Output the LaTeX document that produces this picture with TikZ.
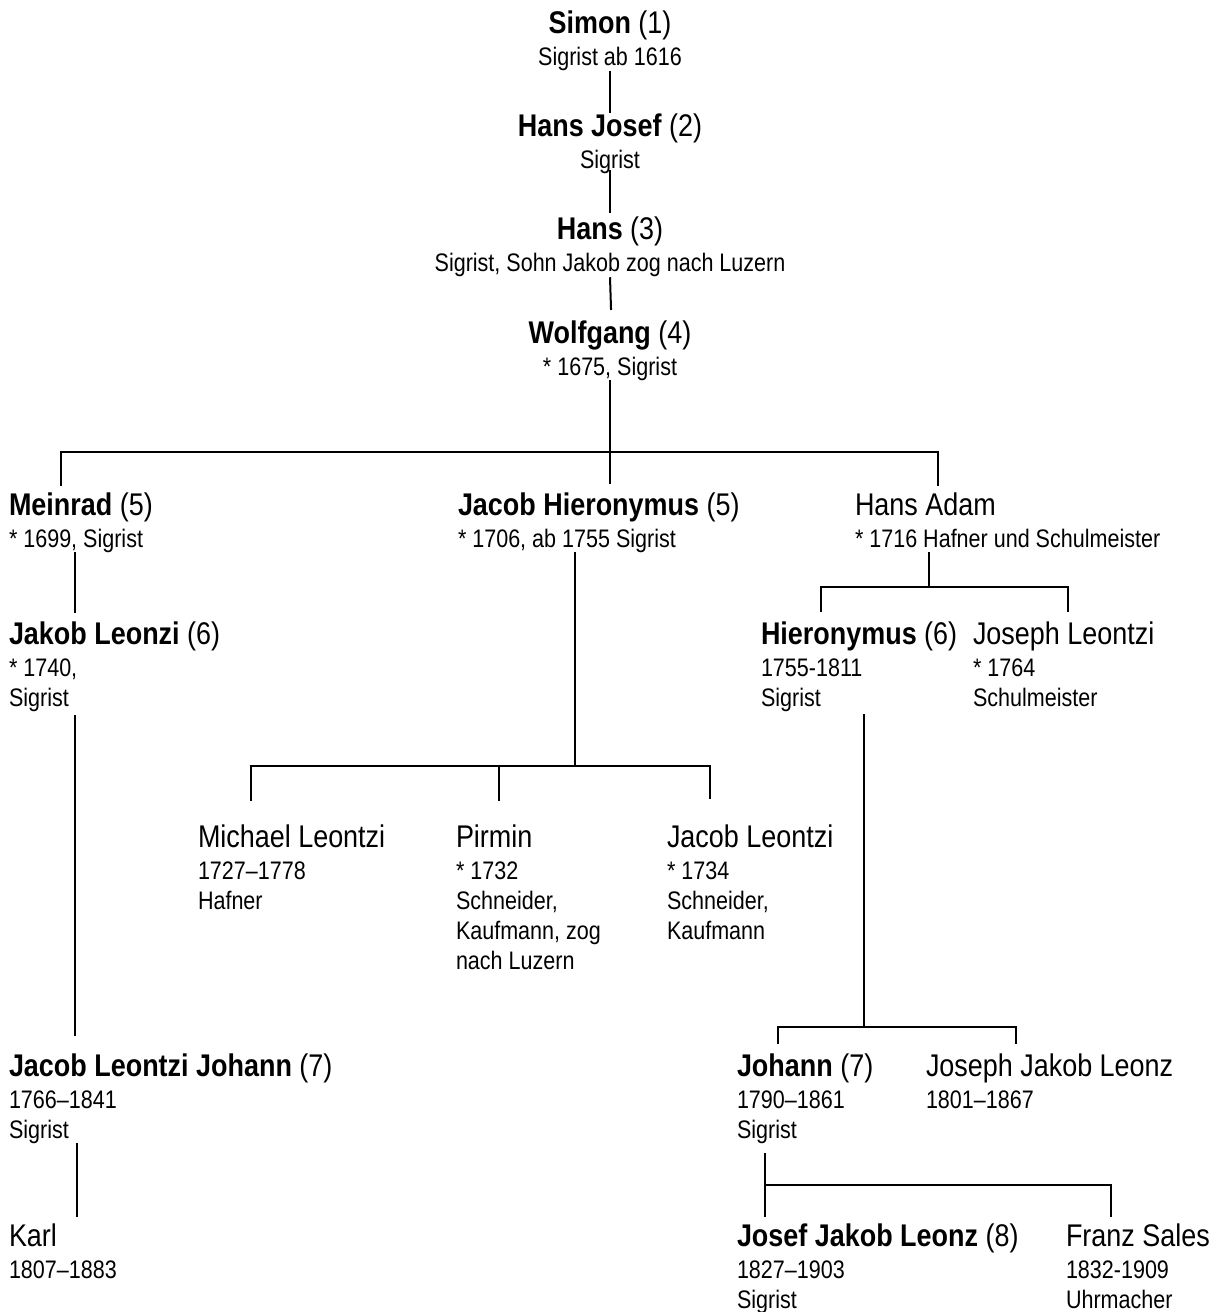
\documentclass[tikz,border=0pt]{standalone}
\usepackage{fontspec}
\setmainfont{Liberation Sans}[FakeStretch=0.85]
\newfontfamily\namefamily{Liberation Sans}[FakeStretch=0.86]
\usetikzlibrary{calc}
\newcommand\nmfont{\namefamily\fontsize{23.5pt}{22.5pt}\selectfont}
\newcommand\sbfont{\fontsize{19pt}{22.5pt}\selectfont}
\begin{document}
\begin{tikzpicture}[x=0.75pt,y=-0.75pt,
  person/.style={anchor=north west,inner sep=0pt,outer sep=0pt,align=left,font=\sbfont},
  topperson/.style={anchor=north,inner sep=0pt,outer sep=0pt,align=center,font=\sbfont},
  conn/.style={line width=1.5pt},
  barline/.style={line width=2pt}]
\fill[white] (0,0) rectangle (1219,1312);
\useasboundingbox (0,0) rectangle (1219,1312);

% ---- top chain ----
\node[topperson] (simon) at (610,10) {{\nmfont\rule{0pt}{18pt}\textbf{Simon} (1)}\\[1.5pt]Sigrist ab 1616};
\node[topperson] (hj) at (610,113) {{\nmfont\rule{0pt}{18pt}\textbf{Hans Josef} (2)}\\[1.5pt]Sigrist};
\node[topperson] (hans) at (610,216) {{\nmfont\rule{0pt}{18pt}\textbf{Hans} (3)}\\[1.5pt]Sigrist, Sohn Jakob zog nach Luzern};
\node[topperson] (wolf) at (610,319) {{\nmfont\rule{0pt}{18pt}\textbf{Wolfgang} (4)}\\[1.5pt]* 1675, Sigrist};

% ---- generation 5 ----
\node[person] (meinrad) at (9,491) {{\nmfont\rule{0pt}{18pt}\textbf{Meinrad} (5)}\\[1.5pt]* 1699, Sigrist};
\node[person] (jh) at (458,491) {{\nmfont\rule{0pt}{18pt}\textbf{Jacob Hieronymus} (5)}\\[1.5pt]* 1706, ab 1755 Sigrist};
\node[person] (hadam) at (855,491) {{\nmfont\rule{0pt}{18pt}Hans Adam}\\[1.5pt]* 1716 Hafner und Schulmeister};

% ---- generation 6 ----
\node[person] (jl) at (9,620) {{\nmfont\rule{0pt}{18pt}\textbf{Jakob Leonzi} (6)}\\[1.5pt]* 1740,\\Sigrist};
\node[person] (hier) at (761,620) {{\nmfont\rule{0pt}{18pt}\textbf{Hieronymus} (6)}\\[1.5pt]1755-1811\\Sigrist};
\node[person] (josl) at (973,620) {{\nmfont\rule{0pt}{18pt}Joseph Leontzi}\\[1.5pt]* 1764\\Schulmeister};

% ---- children of Jacob Hieronymus ----
\node[person] (michael) at (198,823) {{\nmfont\rule{0pt}{18pt}Michael Leontzi}\\[1.5pt]1727–1778\\Hafner};
\node[person] (pirmin) at (456,823) {{\nmfont\rule{0pt}{18pt}Pirmin}\\[1.5pt]* 1732\\Schneider,\\Kaufmann, zog\\nach Luzern};
\node[person] (jacl) at (667,823) {{\nmfont\rule{0pt}{18pt}Jacob Leontzi}\\[1.5pt]* 1734\\Schneider,\\Kaufmann};

% ---- generation 7 ----
\node[person] (jlj) at (9,1052) {{\nmfont\rule{0pt}{18pt}\textbf{Jacob Leontzi Johann} (7)}\\[1.5pt]1766–1841\\Sigrist};
\node[person] (johann) at (737,1052) {{\nmfont\rule{0pt}{18pt}\textbf{Johann} (7)}\\[1.5pt]1790–1861\\Sigrist};
\node[person] (jjl) at (926,1052) {{\nmfont\rule{0pt}{18pt}Joseph Jakob Leonz}\\[1.5pt]1801–1867};

% ---- generation 8 ----
\node[person] (karl) at (9,1222) {{\nmfont\rule{0pt}{18pt}Karl}\\[1.5pt]1807–1883};
\node[person] (jjl8) at (737,1222) {{\nmfont\rule{0pt}{18pt}\textbf{Josef Jakob Leonz} (8)}\\[1.5pt]1827–1903\\Sigrist};
\node[person] (franz) at (1066,1222) {{\nmfont\rule{0pt}{18pt}Franz Sales}\\[1.5pt]1832-1909\\Uhrmacher};

% ---- junction coordinates ----
\coordinate (b5) at (610,452);
\coordinate (d-meinrad) at (61,486);
\coordinate (d-jh) at (610,484);
\coordinate (d-hadam) at (938,486);
\coordinate (b-jh) at (575,766);
\coordinate (d-mich) at (251,801);
\coordinate (d-pir) at (499,801);
\coordinate (d-jacl) at (710,799);
\coordinate (b-ha) at (929,587);
\coordinate (d-hier) at (821,612);
\coordinate (d-josl) at (1068,612);
\coordinate (b-hier) at (864,1027);
\coordinate (d-johann) at (778,1044);
\coordinate (d-jjl) at (1016,1044);
\coordinate (b-jo) at (765,1185);

% ---- connectors ----
\draw[conn] (simon.south) -- (hj.north);
\draw[conn, shorten <=-3pt, shorten >=2pt] (hj.south) -- (hj.south |- hans.north);
\draw[conn, shorten >=6.75pt] (hans.south) -- ([xshift=1pt]hans.south |- wolf.north);
\draw[conn] (wolf.south) -- (b5);
\draw[barline] (d-meinrad) |- (b5) -| (d-hadam);
\draw[conn] (b5) -- (d-jh);

\draw[conn, shorten >=5pt] (meinrad.south -| 75,0) -- (jl.north -| 75,0);
\draw[conn, shorten <=3pt, shorten >=12pt] (jl.south -| 75,0) -- (jlj.north -| 75,0);
\draw[conn, shorten >=3.75pt] (jlj.south -| 77,0) -- (karl.north -| 77,0);

\draw[conn] (jh.south -| b-jh) -- (b-jh);
\draw[barline] (d-mich) |- (b-jh) -| (d-jacl);
\draw[conn] (d-pir) -- (d-pir |- b-jh);

\draw[conn, shorten <=3.75pt] (hadam.south -| b-ha) -- (b-ha);
\draw[barline] (d-hier) |- (b-ha) -| (d-josl);

\draw[conn, shorten <=2pt] (hier.south -| b-hier) -- (b-hier);
\draw[barline] (d-johann) |- (b-hier) -| (d-jjl);

\draw[conn, shorten <=7.5pt, shorten >=3.75pt] (johann.south -| b-jo) -- (jjl8.north -| b-jo);
\draw[barline, shorten >=3.75pt] (b-jo) -| (franz.north -| 1111,0);
\end{tikzpicture}
\end{document}
